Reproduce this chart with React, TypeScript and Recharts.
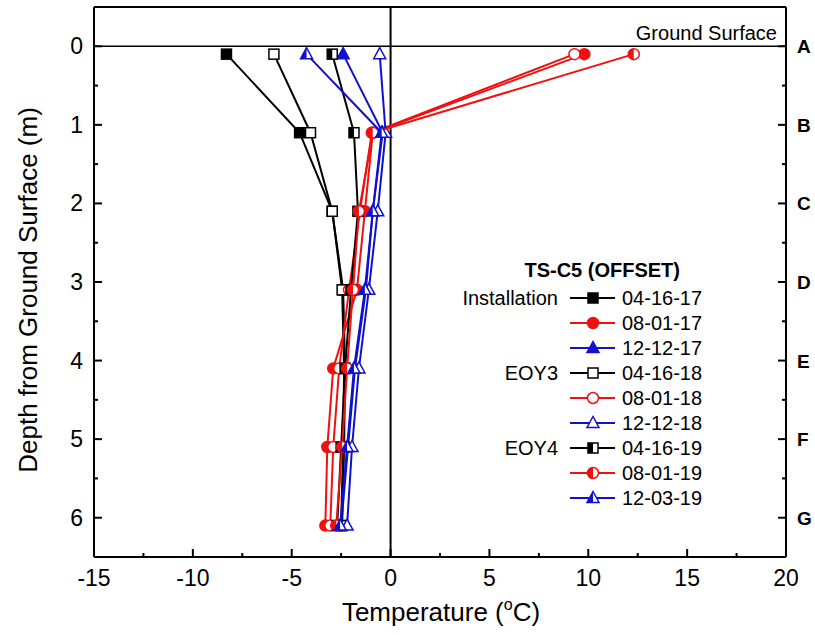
import { ReferenceLine, Scatter, ScatterChart, XAxis, YAxis } from "recharts"

// Sensor depths (m) and readings (°C) for TS-C5 (offset)
const depths = [0.1, 1.1, 2.1, 3.1, 4.1, 5.1, 6.1]
const depthLetters = ["A", "B", "C", "D", "E", "F", "G"]

const temp041617 = [-8.3, -4.6, -2.95, -2.4, -2.3, -2.35, -2.45]
const temp080117 = [9.8, -0.9, -1.3, -1.7, -2.9, -3.2, -3.3]
const temp121217 = [-2.4, -0.4, -0.9, -1.25, -1.8, -2.15, -2.5]
const temp041618 = [-5.9, -4.05, -2.95, -2.45, -2.35, -2.4, -2.5]
const temp080118 = [9.3, -0.95, -1.55, -2.1, -2.6, -2.9, -3.05]
const temp121218 = [-0.55, -0.25, -0.65, -1.1, -1.6, -1.95, -2.2]
const temp041619 = [-2.95, -1.85, -1.65, -2.0, -2.3, -2.5, -2.7]
const temp080119 = [12.3, -0.9, -1.6, -1.9, -2.2, -2.45, -2.75]
const temp120319 = [-4.25, -0.45, -0.9, -1.3, -1.85, -2.2, -2.55]

const dateLabels = [
  "04-16-17", "08-01-17", "12-12-17",
  "04-16-18", "08-01-18", "12-12-18",
  "04-16-19", "08-01-19", "12-03-19",
]
const groupLabels = ["Installation", "", "", "EOY3", "", "", "EOY4", "", ""]

const tempTicks = [-15, -12.5, -10, -7.5, -5, -2.5, 0, 2.5, 5, 7.5, 10, 12.5, 15, 17.5, 20]
const depthTicks = [0, 0.5, 1, 1.5, 2, 2.5, 3, 3.5, 4, 4.5, 5, 5.5, 6]

const FONT = "'Liberation Sans', Arial, sans-serif"
const BLACK = "#000000"
const RED = "#f01010"
const BLUE = "#1010d0"

type Kind = "square" | "circle" | "triangle"
type Fill = "full" | "open" | "half"

const series = [
  { temps: temp041617, color: BLACK, kind: "square", fill: "full" },
  { temps: temp080117, color: RED, kind: "circle", fill: "full" },
  { temps: temp121217, color: BLUE, kind: "triangle", fill: "full" },
  { temps: temp041618, color: BLACK, kind: "square", fill: "open" },
  { temps: temp080118, color: RED, kind: "circle", fill: "open" },
  { temps: temp121218, color: BLUE, kind: "triangle", fill: "open" },
  { temps: temp041619, color: BLACK, kind: "square", fill: "half" },
  { temps: temp080119, color: RED, kind: "circle", fill: "half" },
  { temps: temp120319, color: BLUE, kind: "triangle", fill: "half" },
].map((s, i) => ({
  ...s,
  name: dateLabels[i],
  data: s.temps.map((t, j) => ({ t, d: depths[j] })),
})) as { name: string; color: string; kind: Kind; fill: Fill; data: { t: number; d: number }[] }[]

function Marker({ cx, cy, kind, fill, color }: { cx: number; cy: number; kind: Kind; fill: Fill; color: string }) {
  const body = fill === "full" ? color : "#ffffff"
  if (kind === "square") {
    const h = 5
    return (
      <g>
        <rect x={cx - h} y={cy - h} width={2 * h} height={2 * h} fill={body} stroke={color} strokeWidth={1.5} />
        {fill === "half" && <rect x={cx - h} y={cy - h} width={h} height={2 * h} fill={color} />}
      </g>
    )
  }
  if (kind === "circle") {
    const r = 5.5
    return (
      <g>
        <circle cx={cx} cy={cy} r={r} fill={body} stroke={color} strokeWidth={1.5} />
        {fill === "half" && (
          <path d={`M${cx},${cy - r} A${r},${r} 0 0 0 ${cx},${cy + r} Z`} fill={color} />
        )}
      </g>
    )
  }
  const top = cy - 6.5
  const base = cy + 4.5
  return (
    <g>
      <polygon
        points={`${cx},${top} ${cx - 6},${base} ${cx + 6},${base}`}
        fill={body}
        stroke={color}
        strokeWidth={1.5}
        strokeLinejoin="miter"
      />
      {fill === "half" && <polygon points={`${cx},${top} ${cx - 6},${base} ${cx},${base}`} fill={color} />}
    </g>
  )
}

const BottomTick = (props: any) => {
  const { x, y, payload } = props
  const major = payload.value % 5 === 0
  return (
    <g>
      <line x1={x} y1={y} x2={x} y2={y - (major ? 8 : 4)} stroke={BLACK} strokeWidth={2} />
      {major && (
        <text x={x} y={y + 29} textAnchor="middle" fontSize={23} fontFamily={FONT} fill={BLACK}>
          {payload.value}
        </text>
      )}
    </g>
  )
}

const TopTick = (props: any) => {
  const { x, y, payload } = props
  const major = payload.value % 5 === 0
  return <line x1={x} y1={y} x2={x} y2={y + (major ? 8 : 4)} stroke={BLACK} strokeWidth={2} />
}

const LeftTick = (props: any) => {
  const { x, y, payload } = props
  const major = Number.isInteger(payload.value)
  return (
    <g>
      <line x1={x} y1={y} x2={x + (major ? 8 : 4)} y2={y} stroke={BLACK} strokeWidth={2} />
      {major && (
        <text x={x - 11} y={y + 8} textAnchor="end" fontSize={23} fontFamily={FONT} fill={BLACK}>
          {payload.value}
        </text>
      )}
    </g>
  )
}

const RightTick = (props: any) => {
  const { x, y, payload } = props
  const major = Number.isInteger(payload.value)
  return (
    <g>
      <line x1={x} y1={y} x2={x - (major ? 8 : 4)} y2={y} stroke={BLACK} strokeWidth={2} />
      {major && (
        <text x={x + 11} y={y + 7} fontSize={19} fontWeight="bold" fontFamily={FONT} fill={BLACK}>
          {depthLetters[payload.value]}
        </text>
      )}
    </g>
  )
}

function Overlay() {
  const rowY = (i: number) => 298 + i * 25
  return (
    <svg
      width={815}
      height={635}
      style={{ position: "absolute", left: 0, top: 0, pointerEvents: "none" }}
      fontFamily={FONT}
    >
      <text x={777} y={40} textAnchor="end" fontSize={20} fill={BLACK}>
        Ground Surface
      </text>
      <text
        transform="translate(37,290) rotate(-90)"
        textAnchor="middle"
        fontSize={26}
        fill={BLACK}
      >
        Depth from Ground Surface (m)
      </text>
      <text x={441} y={621} textAnchor="middle" fontSize={26} fill={BLACK}>
        Temperature (<tspan fontSize={16} dy={-11}>o</tspan>
        <tspan dy={11}>C)</tspan>
      </text>
      <text x={680} y={277} textAnchor="end" fontSize={20} fontWeight="bold" fill={BLACK}>
        TS-C5 (OFFSET)
      </text>
      {series.map((s, i) => (
        <g key={s.name}>
          {groupLabels[i] && (
            <text x={558} y={rowY(i) + 7} textAnchor="end" fontSize={20} fill={BLACK}>
              {groupLabels[i]}
            </text>
          )}
          <line x1={570} y1={rowY(i)} x2={615} y2={rowY(i)} stroke={s.color} strokeWidth={2} />
          <Marker cx={593} cy={rowY(i)} kind={s.kind} fill={s.fill} color={s.color} />
          <text x={622} y={rowY(i) + 7} fontSize={20} fill={BLACK}>
            {s.name}
          </text>
        </g>
      ))}
    </svg>
  )
}

export default function App() {
  return (
    <div style={{ position: "absolute", left: 0, top: 0, width: 815, height: 635, background: "#fff" }}>
      <ScatterChart width={815} height={635} margin={{ top: 6, right: 0, bottom: 0, left: 0 }}>
        <XAxis
          xAxisId="b"
          type="number"
          dataKey="t"
          orientation="bottom"
          domain={[-15, 20]}
          allowDataOverflow
          ticks={tempTicks}
          interval={0}
          height={78}
          tickSize={0}
          tickMargin={0}
          tickLine={false}
          tick={BottomTick}
          axisLine={{ stroke: BLACK, strokeWidth: 2 }}
        />
        <XAxis
          xAxisId="t"
          type="number"
          orientation="top"
          domain={[-15, 20]}
          allowDataOverflow
          ticks={tempTicks}
          interval={0}
          height={1}
          tickSize={0}
          tickMargin={0}
          tickLine={false}
          tick={TopTick}
          axisLine={{ stroke: BLACK, strokeWidth: 2 }}
        />
        <YAxis
          yAxisId="l"
          type="number"
          dataKey="d"
          orientation="left"
          domain={[-0.5, 6.5]}
          allowDataOverflow
          reversed
          ticks={depthTicks}
          interval={0}
          width={94}
          tickSize={0}
          tickMargin={0}
          tickLine={false}
          tick={LeftTick}
          axisLine={{ stroke: BLACK, strokeWidth: 2 }}
        />
        <YAxis
          yAxisId="r"
          type="number"
          orientation="right"
          domain={[-0.5, 6.5]}
          allowDataOverflow
          reversed
          ticks={depthTicks}
          interval={0}
          width={29}
          tickSize={0}
          tickMargin={0}
          tickLine={false}
          tick={RightTick}
          axisLine={{ stroke: BLACK, strokeWidth: 2 }}
        />
        <ReferenceLine xAxisId="b" yAxisId="l" y={0} stroke={BLACK} strokeWidth={1.5} />
        <ReferenceLine xAxisId="b" yAxisId="l" x={0} stroke={BLACK} strokeWidth={2} />
        {series.map((s) => (
          <Scatter
            key={s.name}
            name={s.name}
            data={s.data}
            xAxisId="b"
            yAxisId="l"
            line={{ stroke: s.color, strokeWidth: 2 }}
            isAnimationActive={false}
            shape={(p: any) => <Marker cx={p.cx} cy={p.cy} kind={s.kind} fill={s.fill} color={s.color} />}
          />
        ))}
      </ScatterChart>
      <Overlay />
    </div>
  )
}
